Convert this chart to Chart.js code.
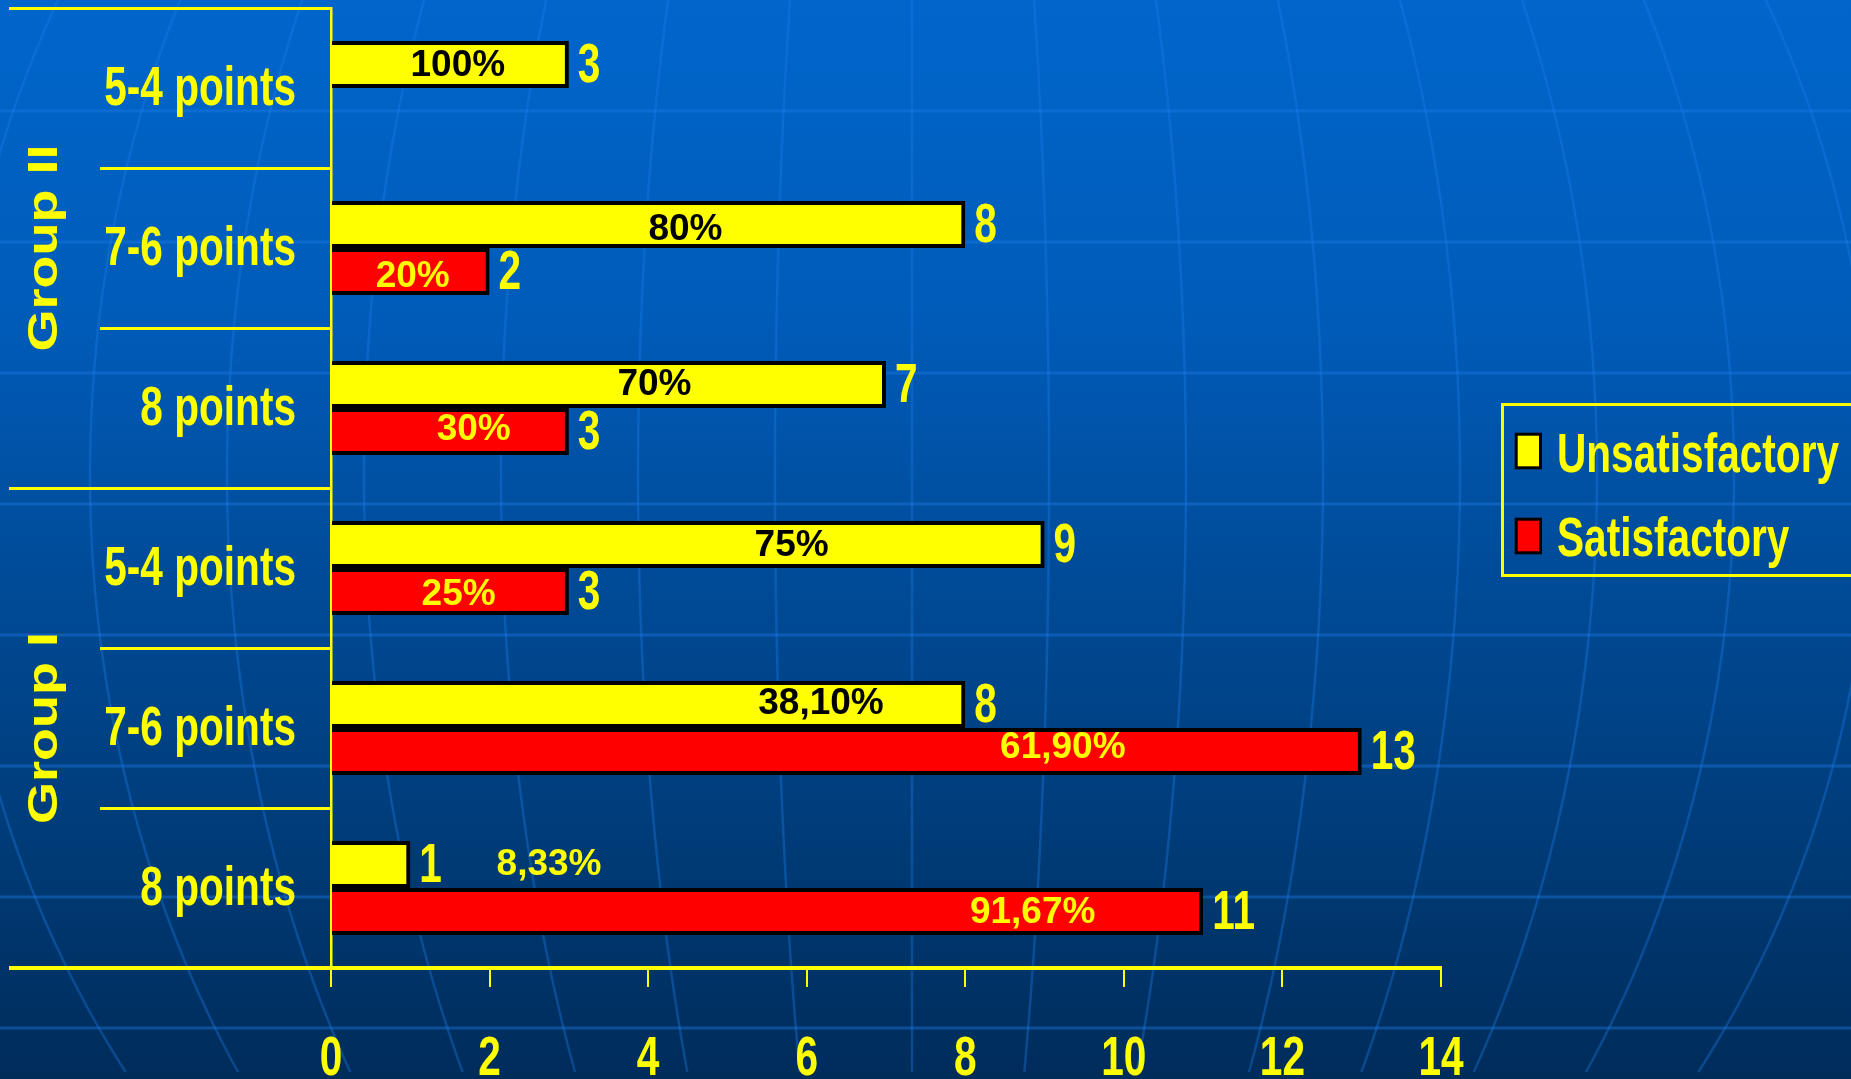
<!DOCTYPE html>
<html>
<head>
<meta charset="utf-8">
<title>Unsatisfactory / Satisfactory by points</title>
<script src="https://cdn.jsdelivr.net/npm/chart.js@4.4.1/dist/chart.umd.min.js"></script>
<style>
  html, body { margin: 0; padding: 0; overflow: hidden; background: #00315f; }
  #wrap { position: relative; width: 1851px; height: 1079px; }
  canvas { display: block; }
</style>
</head>
<body>
<div id="wrap"><canvas id="chart" width="1851" height="1079"></canvas></div>
<script>
// ---- data ----
const categories = ['5-4 points', '7-6 points', '8 points', '5-4 points', '7-6 points', '8 points'];
const groupNames = ['Group II', 'Group I'];
const groupSizes = [3, 3];
const seriesNames = ['Unsatisfactory', 'Satisfactory'];
const unsatisfactory = [3, 8, 7, 9, 8, 1];
const satisfactory = [null, 2, 3, 3, 13, 11];
const unsatisfactoryPct = ['100%', '80%', '70%', '75%', '38,10%', '8,33%'];
const satisfactoryPct = [null, '20%', '30%', '25%', '61,90%', '91,67%'];
const xTickValues = [0, 2, 4, 6, 8, 10, 12, 14];

// ---- where each percentage caption sits: [x in axis units, vertical nudge in px] ----
const pctPlacement = [
  [[1.6, -2], [4.47, 2], [4.08, -3], [5.81, -1.5], [6.18, -4], [2.75, -2.5]],
  [null, [1.03, 2.5], [1.8, -5], [1.61, 0], [9.23, -6.5], [8.85, -2]]
];

// ---- styling ----
const YELLOW = '#ffff00';
const RED = '#ff0000';
const INK = '#000000';
const FONT = "'Liberation Sans', Arial, Helvetica, sans-serif";
const SQUEEZE = 0.725;      // horizontal squeeze of the narrow captions
const BIG = 56;             // caption size for axis, values and legend
const PCT = 37;             // caption size for percentages

function drawText(ctx, text, x, y, o) {
  ctx.save();
  ctx.translate(x, y);
  if (o.rotate) ctx.rotate(o.rotate);
  ctx.scale(o.sx || 1, o.sy || 1);
  ctx.font = 'bold ' + o.size + 'px ' + FONT;
  ctx.fillStyle = o.color;
  ctx.textAlign = o.align || 'left';
  ctx.textBaseline = 'alphabetic';
  ctx.fillText(text, 0, 0);
  ctx.restore();
}

// slide backdrop: blue gradient with a faint globe grid (parallels + meridians)
const backdrop = {
  id: 'backdrop',
  beforeDraw(chart) {
    const { ctx, width, height } = chart;
    ctx.save();
    const g = ctx.createLinearGradient(0, 0, 0, height);
    g.addColorStop(0, '#0066cc');
    g.addColorStop(0.3, '#005bb8');
    g.addColorStop(0.55, '#004a96');
    g.addColorStop(0.8, '#003a75');
    g.addColorStop(1, '#002c5a');
    ctx.fillStyle = g;
    ctx.fillRect(0, 0, width, height);

    ctx.strokeStyle = 'rgba(30,125,235,0.4)';
    ctx.lineWidth = 3;
    for (let y = 111; y < height; y += 131) {
      ctx.beginPath();
      ctx.moveTo(0, y);
      ctx.lineTo(width, y);
      ctx.stroke();
    }

    // meridians of a large globe centred below the plot
    const cx = 912, cy = 475, R = 1043, step = 137;
    ctx.strokeStyle = 'rgba(30,125,235,0.35)';
    ctx.lineWidth = 2.5;
    for (let k = -7; k <= 7; k++) {
      const a = k * step;
      ctx.beginPath();
      for (let y = 0; y <= height; y += 8) {
        const t = (y - cy) / R;
        const x = cx + a * Math.sqrt(Math.max(0, 1 - t * t));
        if (y === 0) ctx.moveTo(x, y); else ctx.lineTo(x, y);
      }
      ctx.stroke();
    }
    ctx.restore();
  }
};

// captions, group brackets and legend
const captions = {
  id: 'captions',
  afterDraw(chart) {
    const { ctx, chartArea } = chart;
    const xs = chart.scales.x;
    const ys = chart.scales.y;

    // long group brackets and the axis line running under the labels
    ctx.save();
    ctx.strokeStyle = YELLOW;
    ctx.lineWidth = 3;
    let start = 0;
    const edges = [0];
    groupSizes.forEach(n => { start += n; edges.push(start); });
    edges.forEach(k => {
      const y = Math.round(ys.getPixelForValue(k - 0.5)) + 0.5;
      ctx.beginPath();
      ctx.moveTo(9, y);
      ctx.lineTo(chartArea.left, y);
      ctx.stroke();
    });
    ctx.lineWidth = 4;
    ctx.beginPath();
    ctx.moveTo(9, chartArea.bottom);
    ctx.lineTo(chartArea.left, chartArea.bottom);
    ctx.stroke();
    ctx.restore();

    // category labels
    categories.forEach((label, i) => {
      const cy = ys.getPixelForValue(i);
      drawText(ctx, label, 296, cy + 16.5, { size: BIG, sx: SQUEEZE, align: 'right', color: YELLOW });
    });

    // group labels, written upwards
    start = 0;
    groupNames.forEach((name, gi) => {
      const top = ys.getPixelForValue(start - 0.5);
      const bottom = ys.getPixelForValue(start + groupSizes[gi] - 0.5);
      start += groupSizes[gi];
      drawText(ctx, name, 57, (top + bottom) / 2, { size: 54, sy: 0.79, rotate: -Math.PI / 2, align: 'center', color: YELLOW });
    });

    // x tick labels
    xTickValues.forEach(v => {
      drawText(ctx, String(v), xs.getPixelForValue(v), 1075, { size: BIG, sx: SQUEEZE, align: 'center', color: YELLOW });
    });

    // value and percentage captions
    const series = [unsatisfactory, satisfactory];
    const pcts = [unsatisfactoryPct, satisfactoryPct];
    series.forEach((values, d) => {
      const meta = chart.getDatasetMeta(d);
      values.forEach((v, i) => {
        if (v === null) return;
        const bar = meta.data[i];
        drawText(ctx, String(v), bar.x + 9, bar.y + 17.8, { size: BIG, sx: SQUEEZE, color: YELLOW });
        const p = pcts[d][i];
        const place = pctPlacement[d][i];
        if (p && place) {
          const inside = place[0] < v;
          const color = inside && d === 0 ? INK : YELLOW;
          drawText(ctx, p, xs.getPixelForValue(place[0]), bar.y + place[1] + 13.2, { size: PCT, align: 'center', color });
        }
      });
    });

    // legend
    ctx.save();
    ctx.strokeStyle = YELLOW;
    ctx.lineWidth = 3;
    ctx.strokeRect(1502.5, 404.5, 420, 171);
    const rows = [[434.2, 472], [519.2, 556]];
    chart.data.datasets.forEach((ds, d) => {
      const [sy, base] = rows[d];
      ctx.fillStyle = ds.backgroundColor;
      ctx.fillRect(1516.2, sy, 24.3, 33.6);
      ctx.strokeStyle = INK;
      ctx.lineWidth = 3;
      ctx.strokeRect(1516.2, sy, 24.3, 33.6);
      drawText(ctx, ds.label, 1557, base, { size: BIG, sx: SQUEEZE, color: YELLOW });
    });
    ctx.restore();
  }
};

const barStyle = { borderColor: INK, borderWidth: 4, borderSkipped: 'start', categoryPercentage: 0.5875, barPercentage: 1 };

new Chart(document.getElementById('chart'), {
  type: 'bar',
  data: {
    labels: categories,
    datasets: [
      Object.assign({ label: seriesNames[0], data: unsatisfactory, backgroundColor: YELLOW }, barStyle),
      Object.assign({ label: seriesNames[1], data: satisfactory, backgroundColor: RED }, barStyle)
    ]
  },
  options: {
    indexAxis: 'y',
    responsive: false,
    animation: false,
    layout: { padding: { left: 0, top: 8, right: 410, bottom: 0 } },
    plugins: { legend: { display: false }, tooltip: { enabled: false } },
    scales: {
      x: {
        type: 'linear',
        min: 0,
        max: 14,
        afterBuildTicks: s => { s.ticks = xTickValues.map(v => ({ value: v })); },
        afterFit: s => { s.height = 111; },
        ticks: { display: false },
        grid: { drawOnChartArea: false, drawTicks: true, tickLength: 19, color: YELLOW, lineWidth: 2 },
        border: { display: true, color: YELLOW, width: 4 }
      },
      y: {
        type: 'category',
        z: 1,
        afterFit: s => { s.width = 331; },
        ticks: { display: false },
        grid: { offset: true, drawOnChartArea: false, drawTicks: true, tickLength: 231, color: YELLOW, lineWidth: 3 },
        border: { display: true, color: YELLOW, width: 2.5 }
      }
    }
  },
  plugins: [backdrop, captions]
});
</script>
</body>
</html>
